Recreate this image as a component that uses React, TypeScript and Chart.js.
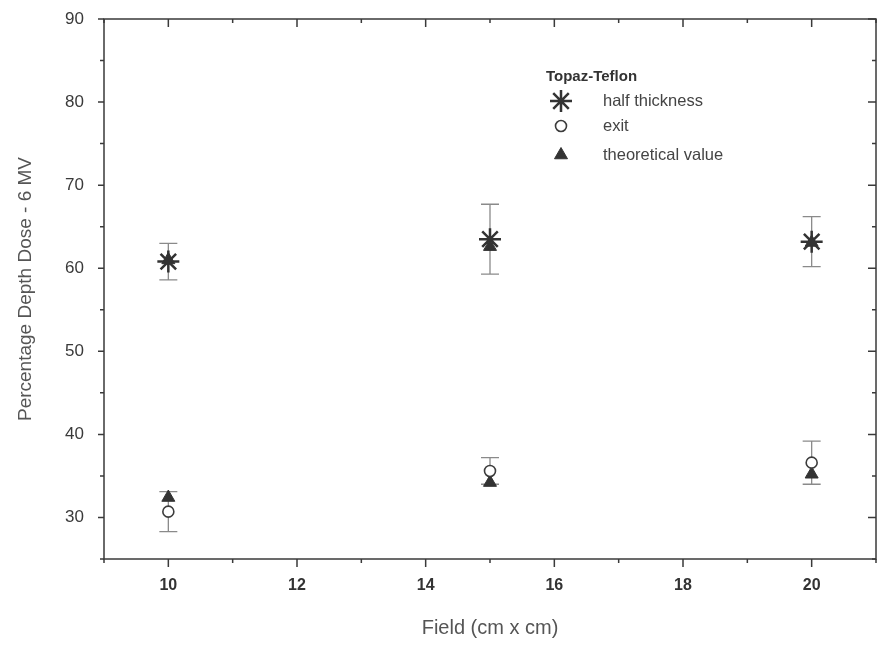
import React, { useEffect, useRef } from 'react';
import { Chart, registerables } from 'chart.js';
import { drawPoint } from 'chart.js/helpers';

Chart.register(...registerables);

// ---- data ----
const fields = [10, 15, 20];
const halfThickness = [60.8, 63.5, 63.2];
const halfThicknessErr = [2.2, 4.2, 3.0];
const exitValues = [30.7, 35.6, 36.6];
const exitErr = [2.4, 1.6, 2.6];
const theoreticalHigh = [61.0, 62.6, 63.1];
const theoreticalLow = [32.4, 34.2, 35.2];

const xMajorTicks = [10, 12, 14, 16, 18, 20];
const xMinorTicks = [9, 11, 13, 15, 17, 19, 21];
const yMajorTicks = [30, 40, 50, 60, 70, 80, 90];
const yMinorTicks = [25, 35, 45, 55, 65, 75, 85];

const legendTitle = 'Topaz-Teflon';
const seriesNames = ['half thickness', 'exit', 'theoretical value'];
const xTitle = 'Field (cm x cm)';
const yTitle = 'Percentage Depth Dose - 6 MV';

const FONT = "'Liberation Sans', Arial, sans-serif";
const INK = '#333333';

const frameTicksPlugin = {
  id: 'frameTicks',
  afterDraw(chart: any) {
    const { ctx, chartArea } = chart;
    const { left, right, top, bottom } = chartArea;
    const xs = chart.scales.x;
    const ys = chart.scales.y;
    ctx.save();
    ctx.strokeStyle = '#3a3a3a';
    ctx.lineWidth = 1.5;
    ctx.strokeRect(left, top, right - left, bottom - top);
    const major = 8;
    const minor = 4;
    ctx.beginPath();
    xMajorTicks.forEach((v) => {
      const p = xs.getPixelForValue(v);
      ctx.moveTo(p, bottom); ctx.lineTo(p, bottom + major);
      ctx.moveTo(p, top); ctx.lineTo(p, top + major);
    });
    xMinorTicks.forEach((v) => {
      const p = xs.getPixelForValue(v);
      ctx.moveTo(p, bottom); ctx.lineTo(p, bottom + minor);
      ctx.moveTo(p, top); ctx.lineTo(p, top + minor);
    });
    yMajorTicks.forEach((v) => {
      const p = ys.getPixelForValue(v);
      ctx.moveTo(left - major + 2, p); ctx.lineTo(left, p);
      ctx.moveTo(right, p); ctx.lineTo(right - major, p);
    });
    yMinorTicks.forEach((v) => {
      const p = ys.getPixelForValue(v);
      ctx.moveTo(left - minor, p); ctx.lineTo(left, p);
      ctx.moveTo(right, p); ctx.lineTo(right - minor, p);
    });
    ctx.stroke();
    ctx.restore();
  },
};

const errorBarsPlugin = {
  id: 'errorBars',
  beforeDatasetsDraw(chart: any) {
    const { ctx } = chart;
    const xs = chart.scales.x;
    const ys = chart.scales.y;
    ctx.save();
    ctx.strokeStyle = '#8a8a8a';
    ctx.lineWidth = 1.3;
    const cap = 9;
    const draw = (vals: number[], errs: number[]) => {
      fields.forEach((f, i) => {
        const px = xs.getPixelForValue(f);
        const y1 = ys.getPixelForValue(vals[i] + errs[i]);
        const y2 = ys.getPixelForValue(vals[i] - errs[i]);
        ctx.beginPath();
        ctx.moveTo(px, y1); ctx.lineTo(px, y2);
        ctx.moveTo(px - cap, y1); ctx.lineTo(px + cap, y1);
        ctx.moveTo(px - cap, y2); ctx.lineTo(px + cap, y2);
        ctx.stroke();
      });
    };
    draw(halfThickness, halfThicknessErr);
    draw(exitValues, exitErr);
    ctx.restore();
  },
};

const legendPlugin = {
  id: 'customLegend',
  afterDraw(chart: any) {
    const { ctx } = chart;
    ctx.save();
    ctx.fillStyle = INK;
    ctx.font = `bold 15px ${FONT}`;
    ctx.textBaseline = 'middle';
    ctx.textAlign = 'left';
    ctx.fillText(legendTitle, 546, 77);
    const rowsY = [101, 126, 155];
    const markerX = 561;
    const textX = 603;
    chart.data.datasets.forEach((ds: any, i: number) => {
      const opts = {
        pointStyle: ds.pointStyle,
        radius: ds.pointRadius,
        borderWidth: ds.pointBorderWidth,
        rotation: 0,
      };
      ctx.strokeStyle = ds.pointBorderColor;
      ctx.fillStyle = ds.pointBackgroundColor;
      ctx.lineWidth = ds.pointBorderWidth;
      drawPoint(ctx, opts as any, markerX, rowsY[i]);
      ctx.fillStyle = '#444444';
      ctx.font = `16.5px ${FONT}`;
      ctx.fillText(seriesNames[i], textX, rowsY[i]);
    });
    ctx.restore();
  },
};

export default function App() {
  const ref = useRef<HTMLCanvasElement | null>(null);
  useEffect(() => {
    document.body.style.margin = '0';
    document.body.style.overflow = 'hidden';
    const canvas = ref.current;
    if (!canvas) return;
    const chart = new Chart(canvas, {
      type: 'scatter',
      data: {
        datasets: [
          {
            label: seriesNames[0],
            data: fields.map((f, i) => ({ x: f, y: halfThickness[i] })),
            pointStyle: 'star',
            pointRadius: 11,
            pointBorderWidth: 2.5,
            pointBorderColor: '#333333',
            pointBackgroundColor: '#333333',
            showLine: false,
          },
          {
            label: seriesNames[1],
            data: fields.map((f, i) => ({ x: f, y: exitValues[i] })),
            pointStyle: 'circle',
            pointRadius: 5.5,
            pointBorderWidth: 1.6,
            pointBorderColor: '#3c3c3c',
            pointBackgroundColor: '#ffffff',
            showLine: false,
          },
          {
            label: seriesNames[2],
            data: [
              ...fields.map((f, i) => ({ x: f, y: theoreticalHigh[i] })),
              ...fields.map((f, i) => ({ x: f, y: theoreticalLow[i] })),
            ],
            pointStyle: 'triangle',
            pointRadius: 7.5,
            pointBorderWidth: 1,
            pointBorderColor: '#333333',
            pointBackgroundColor: '#333333',
            showLine: false,
          },
        ] as any,
      },
      options: {
        animation: false,
        responsive: false,
        devicePixelRatio: 1,
        layout: { padding: { left: 0, right: 5, top: 19, bottom: 0 } },
        plugins: {
          legend: { display: false },
          tooltip: { enabled: false },
        },
        scales: {
          x: {
            type: 'linear',
            min: 9,
            max: 21,
            grid: { display: false, drawTicks: false },
            border: { display: false },
            afterBuildTicks: (scale: any) => {
              scale.ticks = xMajorTicks.map((v) => ({ value: v }));
            },
            afterFit: (scale: any) => {
              scale.height = 91;
              scale.paddingLeft = 0;
              scale.paddingRight = 0;
            },
            ticks: {
              padding: 17,
              color: INK,
              font: { family: FONT, size: 16, weight: 'bold' },
              maxRotation: 0,
            },
            title: {
              display: true,
              text: xTitle,
              color: '#555555',
              font: { family: FONT, size: 20 },
              padding: { top: 0, bottom: 10 },
            },
          },
          y: {
            type: 'linear',
            min: 25,
            max: 90,
            grid: { display: false, drawTicks: false },
            border: { display: false },
            afterBuildTicks: (scale: any) => {
              scale.ticks = yMajorTicks.map((v) => ({ value: v }));
            },
            afterFit: (scale: any) => {
              scale.width = 104;
              scale.paddingTop = 0;
              scale.paddingBottom = 0;
            },
            ticks: {
              padding: 20,
              color: '#3a3a3a',
              font: { family: FONT, size: 17 },
            },
            title: {
              display: true,
              text: yTitle,
              color: '#555555',
              font: { family: FONT, size: 19 },
              padding: { top: 14, bottom: 0 },
            },
          },
        },
      } as any,
      plugins: [errorBarsPlugin, frameTicksPlugin, legendPlugin],
    });
    // markers may overflow the frame; do not reserve layout padding for them
    chart.data.datasets.forEach((_: any, i: number) => {
      const c: any = chart.getDatasetMeta(i).controller;
      if (c) c.getMaxOverflow = () => false;
    });
    chart.update();
    return () => chart.destroy();
  }, []);
  return (
    <div style={{ width: 881, height: 650, overflow: 'hidden' }}>
      <canvas ref={ref} width={881} height={650} style={{ display: 'block' }} />
    </div>
  );
}
